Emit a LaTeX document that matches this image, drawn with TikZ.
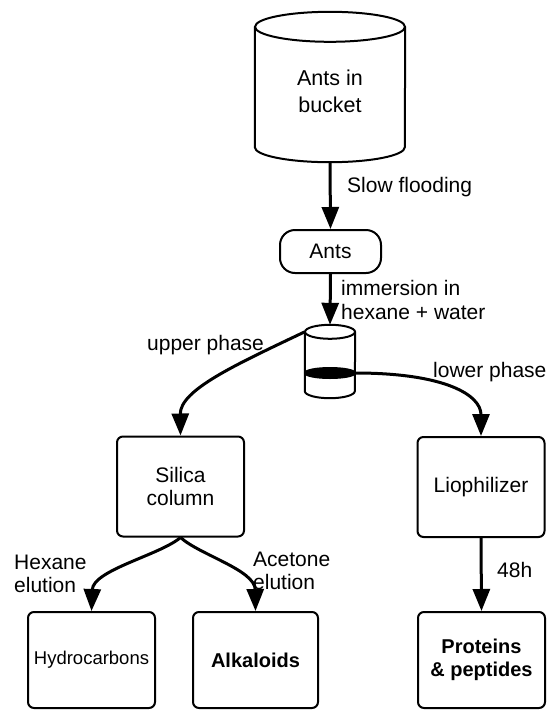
\documentclass[tikz,border=0pt]{standalone}
\usepackage{fontspec}
\setmainfont{Liberation Sans}
\usetikzlibrary{arrows.meta,calc}
\def\vessel(#1,#2,#3){
  \draw[line width=2pt] ($(#1.north)+(0,-#3)$) ellipse [x radius=#2, y radius=#3];
  \draw[line width=2pt] ($(#1.north west)+(0,-#3)$) -- ($(#1.south west)+(0,#3)$)
     arc [start angle=180, end angle=360, x radius=#2, y radius=#3] -- ($(#1.north east)+(0,-#3)$);
}
\tikzset{
  box/.style={draw, line width=2pt, rounded corners=6pt, minimum width=127pt, minimum height=100pt, align=center, inner sep=2pt},
  flow/.style={line width=3pt, -{Triangle[length=22pt,width=17pt]}},
  note/.style={anchor=west, align=left, inner sep=0pt},
}

\begin{document}
\begin{tikzpicture}[x=1pt, y=1pt, font=\fontsize{21}{23}\selectfont]
\useasboundingbox (0,0) rectangle (557,-710);
\node[minimum width=150pt, minimum height=150pt] (bucket) at (330,-87) {};
\vessel(bucket,75pt,15pt)
\node[align=center, font=\fontsize{21.5}{27}\selectfont] (buckettxt) at (330,-91) {Ants in\\bucket};
\node[draw, line width=2pt, rounded corners=15pt, minimum width=101pt, minimum height=43pt] (ants) at (330.5,-251.5) {Ants};
\node[minimum width=50pt, minimum height=73pt] (beaker) at (330,-361.5) {};
\vessel(beaker,25pt,7pt)
\draw[line width=2pt, fill=black] ($(beaker.center)+(0,-11.5pt)$) ellipse [x radius=25pt, y radius=5pt];
\coordinate (upper) at ($(beaker.north west)+(0,-7pt)$);
\coordinate (lower) at ($(beaker.east)+(0,-11.5pt)$);

\node[box] (silica) at (180.5,-486.5) {Silica\\column};
\node[box] (lioph) at (481,-487) {Liophilizer};
\node[box, minimum height=96pt, font=\fontsize{18.5}{22}\selectfont] (hydro) at (91.5,-660) {Hydrocarbons};
\node[box, minimum width=125pt, minimum height=96pt, font=\bfseries\fontsize{20}{23}\selectfont] (alka) at (255.5,-660) {Alkaloids};
\node[box, minimum height=96pt, font=\bfseries\fontsize{20}{23}\selectfont] (prot) at (481.5,-660) {Proteins\\\& peptides};

\draw[flow] (bucket.south) -- (ants.north);
\draw[flow] (ants.south) -- (beaker.north);
\draw[flow] (upper) .. controls (235,-365) and (180,-390) .. (silica.north);
\draw[flow] (lower) .. controls (445,-373) and (481,-395) .. (lioph.north);
\draw[flow] (silica.south) .. controls (160,-555) and (93,-570) .. (hydro.north);
\draw[flow] (silica.south) .. controls (200,-555) and (255,-570) .. (alka.north);
\draw[flow] (lioph.south) -- (prot.north);

\node[note] (slow) at (347,-187) {Slow flooding};
\node[note, font=\fontsize{21}{24}\selectfont] (immerse) at (341,-300) {immersion in\\hexane + water};
\node[note] (uplab) at (147,-345) {upper phase};
\node[note] (lowlab) at (433,-372) {lower phase};
\node[note] (hexlab) at (14,-574) {Hexane\\elution};
\node[note] (acelab) at (253,-571) {Acetone\\elution};
\node[note] (time) at (497,-570) {48h};
\end{tikzpicture}
\end{document}
